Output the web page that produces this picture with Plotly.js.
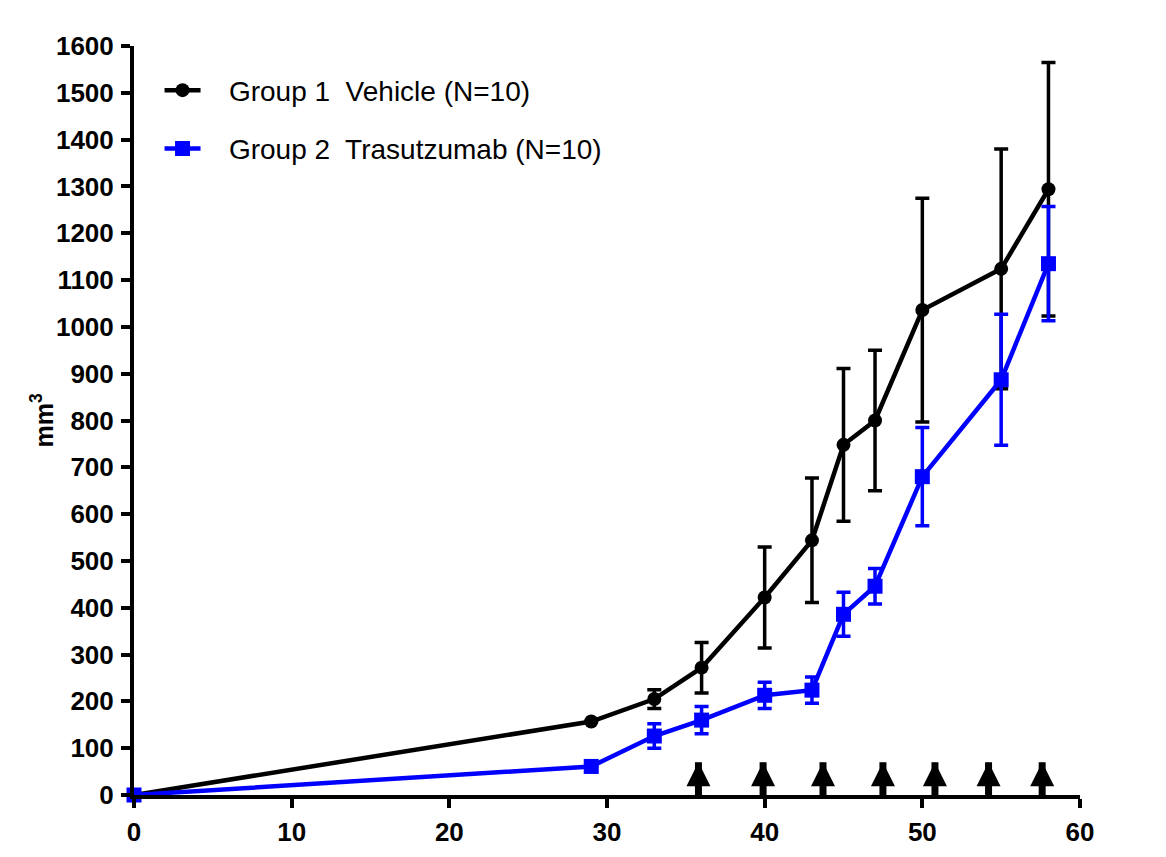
<!DOCTYPE html>
<html>
<head>
<meta charset="utf-8">
<script src="https://cdn.plot.ly/plotly-3.0.1.min.js"></script>
<style>html,body{margin:0;padding:0;background:#fff;}#chart{width:1166px;height:857px;}</style>
</head>
<body>
<div id="chart"></div>
<script>
// ---- data ----
const days = [0, 29, 33, 36, 40, 43, 45, 47, 50, 55, 58];
const vehicleMean = [0, 157, 205, 272, 422, 544, 748, 800, 1036, 1124, 1294];
const vehicleErr  = [0, 0, 20, 54, 108, 133, 163, 150, 239, 256, 271];
const trasMean = [0, 61, 126, 160, 213, 224, 386, 446, 680, 887, 1135];
const trasErr  = [0, 0, 26, 29, 28, 28, 47, 38, 105, 140, 122];
const doseDays = [35.8, 39.9, 43.7, 47.5, 50.8, 54.2, 57.6];
const doseLevel = [70, 70, 70, 70, 70, 70, 70];
const seriesNames = ["Group 1\u00A0 Vehicle (N=10)", "Group 2\u00A0 Trasutzumab (N=10)"];
const yTitle = "mm<sup>3</sup>";
const xTicks = [0, 10, 20, 30, 40, 50, 60];
const yTicks = [0,100,200,300,400,500,600,700,800,900,1000,1100,1200,1300,1400,1500,1600];

const FONT = "'Liberation Sans', Arial, sans-serif";
const PAD = "\u00A0\u00A0\u00A0";

const traces = [
  {
    x: doseDays, y: doseLevel, type: 'scatter', mode: 'markers',
    showlegend: false, hoverinfo: 'skip', cliponaxis: false,
    marker: {symbol: 'arrow-up', size: 24, color: '#000', line: {width: 0}},
    error_y: {type: 'data', symmetric: false, array: doseDays.map(() => 0),
              arrayminus: doseLevel, thickness: 7, width: 0, color: '#000'}
  },
  {
    x: days, y: vehicleMean, type: 'scatter', mode: 'lines+markers',
    name: PAD + seriesNames[0], legendgroup: 'g1', cliponaxis: false,
    line: {color: '#000000', width: 4.5},
    marker: {symbol: 'circle', size: 14, color: '#000000'},
    error_y: {type: 'data', array: vehicleErr, visible: true, thickness: 3.5, width: 7, color: '#000000'}
  },
  {
    x: days, y: trasMean, type: 'scatter', mode: 'lines+markers',
    name: PAD + seriesNames[1], legendgroup: 'g2', cliponaxis: false,
    line: {color: '#0000FF', width: 4.5},
    marker: {symbol: 'square', size: 15, color: '#0000FF'},
    error_y: {type: 'data', array: trasErr, visible: true, thickness: 3.5, width: 7, color: '#0000FF'}
  }
];

const layout = {
  width: 1166, height: 857,
  margin: {l: 134, r: 86, t: 46, b: 62},
  paper_bgcolor: '#fff', plot_bgcolor: '#fff',
  font: {family: FONT, color: '#000', size: 22},
  showlegend: true,
  legend: {
    x: 0.027, y: 0.974, xanchor: 'left', yanchor: 'top',
    font: {family: FONT, size: 28, color: '#000'},
    bgcolor: 'rgba(0,0,0,0)', tracegroupgap: 19, traceorder: 'grouped',
    itemwidth: 36
  },
  xaxis: {
    range: [0, 60], tickmode: 'array', tickvals: xTicks,
    showgrid: false, zeroline: false,
    showline: true, linecolor: '#000', linewidth: 4,
    ticks: 'outside', ticklen: 9, tickwidth: 4, tickcolor: '#000',
    tickfont: {family: FONT, size: 26, color: '#000', weight: 'bold'},
    ticklabelstandoff: 2
  },
  yaxis: {
    range: [0, 1600], tickmode: 'array', tickvals: yTicks,
    showgrid: false, zeroline: false,
    showline: true, linecolor: '#000', linewidth: 4,
    ticks: 'outside', ticklen: 9, tickwidth: 4, tickcolor: '#000',
    tickfont: {family: FONT, size: 26, color: '#000', weight: 'bold'},
    ticklabelstandoff: 2
  },
  annotations: [{
    text: '<b>' + yTitle + '</b>', xref: 'paper', yref: 'paper',
    x: -0.0973, y: 0.5, xanchor: 'center', yanchor: 'middle',
    textangle: -90, showarrow: false,
    font: {family: FONT, size: 25, color: '#000'}
  }]
};

Plotly.newPlot('chart', traces, layout, {displayModeBar: false, staticPlot: true});
</script>
</body>
</html>
